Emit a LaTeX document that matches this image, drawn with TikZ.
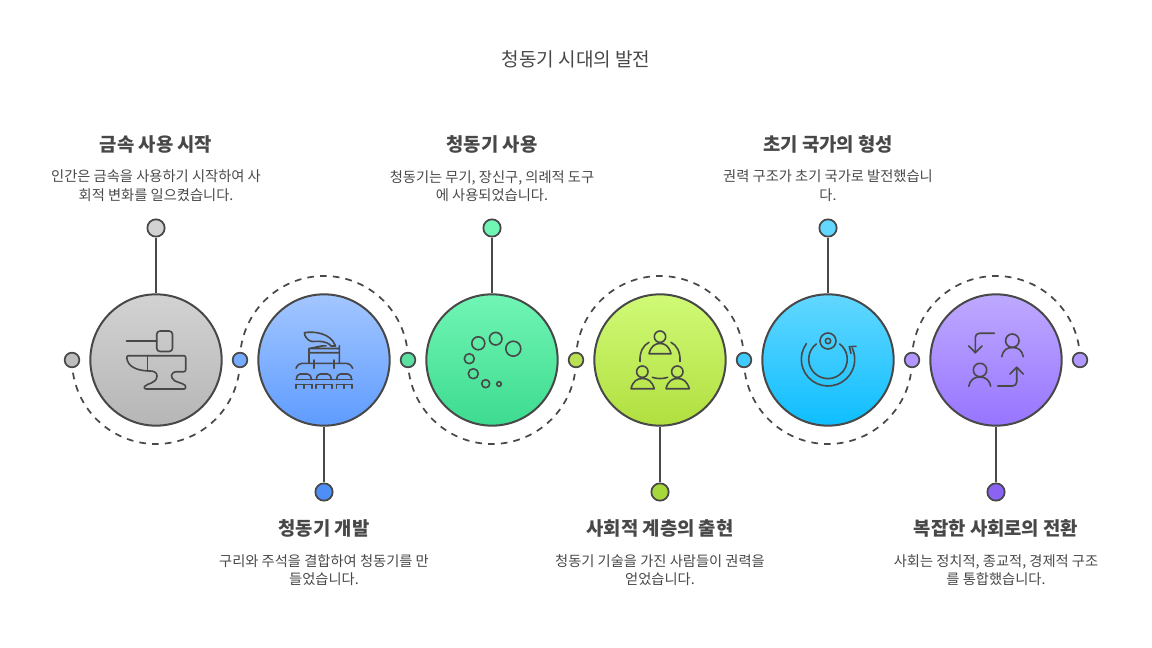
\documentclass[tikz,border=0pt]{standalone}
\usepackage{fontspec}
\setmainfont{Noto Sans CJK KR}
\usetikzlibrary{backgrounds}
\definecolor{ink}{HTML}{484848}
\definecolor{txt}{HTML}{484848}
\definecolor{g1}{HTML}{D2D2D2}\definecolor{g2}{HTML}{B6B6B6}
\definecolor{b1}{HTML}{A3C6FF}\definecolor{b2}{HTML}{5F9CFF}
\definecolor{t1}{HTML}{71F5B4}\definecolor{t2}{HTML}{3DDB90}
\definecolor{l1}{HTML}{D0FA77}\definecolor{l2}{HTML}{B1DF3F}
\definecolor{c1}{HTML}{62D7FF}\definecolor{c2}{HTML}{0FBEFF}
\definecolor{p1}{HTML}{BEA9FF}\definecolor{p2}{HTML}{9775FF}
\definecolor{pb}{HTML}{4F8EF7}\definecolor{pl}{HTML}{A6D83C}\definecolor{pp}{HTML}{8A63F4}
\tikzset{
  big/.style 2 args={circle,draw=ink,line width=1.5pt,minimum size=98.5pt,inner sep=0pt,top color=#1,bottom color=#2},
  dotS/.style={circle,draw=ink,line width=1.3pt,minimum size=11pt,inner sep=0pt,fill=#1},
  dotL/.style={circle,draw=ink,line width=1.3pt,minimum size=13pt,inner sep=0pt,fill=#1},
  stem/.style={draw=ink,line width=1.5pt},
  wave/.style={draw=ink,line width=1.3pt,dash pattern=on 5pt off 4.6pt},
  ico/.style={draw=ink,line width=1.2pt,line cap=round,line join=round},
  heading/.style={text=txt,font=\fontsize{14.1}{17}\selectfont\bfseries,align=center,inner sep=0pt},
  body/.style={text=txt,font=\fontsize{10.7}{14}\selectfont,align=center,inner sep=0pt},
  title/.style={text=txt,font=\fontsize{14.3}{17}\selectfont,inner sep=0pt},
}
\begin{document}
\begin{tikzpicture}[x=.75pt,y=-.75pt]
\useasboundingbox (0,0) rectangle (1152,648);
\node[title] (ttl) at (576,59.5) {청동기 시대의 발전};
% circles
\node[big={g1}{g2}] (n1) at (156,360) {};
\node[big={b1}{b2}] (n2) at (324,360) {};
\node[big={t1}{t2}] (n3) at (492,360) {};
\node[big={l1}{l2}] (n4) at (660,360) {};
\node[big={c1}{c2}] (n5) at (828,360) {};
\node[big={p1}{p2}] (n6) at (996,360) {};
% small dots
\node[dotS=g1!90!black] (d0) at (72,360) {};
\node[dotS=b2!85!white] (d1) at (240,360) {};
\node[dotS=t2!85!white] (d2) at (408,360) {};
\node[dotS=l2!90!white] (d3) at (576,360) {};
\node[dotS=c2!80!white] (d4) at (744,360) {};
\node[dotS=p2!75!white] (d5) at (912,360) {};
\node[dotS=p2!75!white] (d6) at (1080,360) {};
% waves
\begin{pgfonlayer}{background}
\draw[wave] (d0.center) arc[start angle=180,end angle=0,radius=84];
\draw[wave] (d1.center) arc[start angle=180,end angle=360,radius=84];
\draw[wave] (d2.center) arc[start angle=180,end angle=0,radius=84];
\draw[wave] (d3.center) arc[start angle=180,end angle=360,radius=84];
\draw[wave] (d4.center) arc[start angle=180,end angle=0,radius=84];
\draw[wave] (d5.center) arc[start angle=180,end angle=360,radius=84];
\end{pgfonlayer}
% pins
\node[dotL=g1] (p1) at (156,228) {};
\node[dotL=t1] (p3) at (492,228) {};
\node[dotL=c1] (p5) at (828,228) {};
\node[dotL=pb] (p2) at (324,492) {};
\node[dotL=pl] (p4) at (660,492) {};
\node[dotL=pp] (p6) at (996,492) {};
\foreach \a/\b in {p1/n1,p2/n2,p3/n3,p4/n4,p5/n5,p6/n6} \draw[stem] (\a) -- (\b);
% labels
\node[heading] (h1) at (156,144) {금속 사용 시작};
\node[body] (t1) at (156,186) {인간은 금속을 사용하기 시작하여 사\\회적 변화를 일으켰습니다.};
\node[heading] (h3) at (492,144) {청동기 사용};
\node[body] (t3) at (492,186) {청동기는 무기, 장신구, 의례적 도구\\에 사용되었습니다.};
\node[heading] (h5) at (828,144) {초기 국가의 형성};
\node[body] (t5) at (828,186) {권력 구조가 초기 국가로 발전했습니\\다.};
\node[heading] (h2) at (324,528) {청동기 개발};
\node[body] (t2) at (324,570) {구리와 주석을 결합하여 청동기를 만\\들었습니다.};
\node[heading] (h4) at (660,528) {사회적 계층의 출현};
\node[body] (t4) at (660,570) {청동기 기술을 가진 사람들이 권력을\\얻었습니다.};
\node[heading] (h6) at (996,528) {복잡한 사회로의 전환};
\node[body] (t6) at (996,570) {사회는 정치적, 종교적, 경제적 구조\\를 통합했습니다.};
% icon 1: anvil
\draw[ico] (126.5,341) -- (156.7,341);
\draw[ico,rounded corners=2.5] (156.7,331) rectangle (172.5,351.5);
\draw[ico] (128,355.7) -- (184,355.7) .. controls (185.5,355.7) and (185.7,357) .. (185.7,358) -- (185.7,369.5) .. controls (185.7,371) and (185,371.7) .. (184,371.7) -- (177,371.7) .. controls (170,372) and (170,378) .. (175,381) .. controls (181,383.5) and (185.7,384) .. (185.7,387) .. controls (185.7,388.5) and (185,389) .. (184,389) -- (146,389) .. controls (144.5,389) and (144,388) .. (144.5,386.5) .. controls (147,383) and (156.5,384) .. (157,376) .. controls (157,372.5) and (154,371) .. (150,371) .. controls (140,371) and (127,368) .. (126.7,357) .. controls (126.7,356) and (127,355.7) .. (128,355.7) -- cycle;
\draw[ico] (147.3,355.7) -- (147.3,371);
% icon 2: feather, hat, table, seats
\draw[ico] (304.5,332.7) .. controls (314,331) and (331,333) .. (335.5,346) -- (331,346) .. controls (326,340) and (318,341.5) .. (312,341.5) .. controls (308,341) and (304,336) .. (304.5,332.7) -- cycle;
\draw[ico] (309,348.5) .. controls (318,347) and (319,345.8) .. (326,345.8) (339.3,348.5) -- (309,348.5) (309,348.5) -- (309,363.3) (339.3,345.8) -- (339.3,363.3) (309,352.7) -- (339.3,352.7);
\draw[ico] (296,368.3) .. controls (297.5,365) and (299.5,363.3) .. (302,363.3) -- (346.5,363.3) .. controls (349,363.3) and (351,365) .. (352.7,368.3);
\draw[ico] (314,360) -- (314,368.3) (334,360) -- (334,368.3);
\foreach \x in {296,316,336.3}{
  \draw[ico] (\x+.5,379.5) .. controls (\x+.5,376) and (\x+2,374) .. (\x+4,374) -- (\x+11.5,374) .. controls (\x+13.5,374) and (\x+15.2,376) .. (\x+15.2,379.5);
  \draw[ico] (\x,384.5) -- (\x+15.7,384.5) (\x,384.5) -- (\x,388.3) (\x+7.8,384.5) -- (\x+7.8,388.3) (\x+15.7,384.5) -- (\x+15.7,388.3);
}
\draw[ico] (296,379.5) -- (352.2,379.5);
% icon 3: ring of bubbles
\foreach \x/\y/\r in {478.3/343.3/6.5,495.7/338.7/6.3,513.3/348.7/7.5,469.3/358.7/5,473.3/373.7/5,485.7/383.7/4,499/384/2.3}
  \draw[ico] (\x,\y) circle[radius=\r];
% icon 4: three people
\foreach \x/\y in {660/336.7,642.3/371.7,677.3/371.7} \draw[ico] (\x,\y) circle[radius=5.7];
\draw[ico] (649,353.7) .. controls (651,346) and (655,343.5) .. (660,343.5) .. controls (665,343.5) and (669,346) .. (671,353.7) -- cycle;
\draw[ico] (631,388.7) .. controls (633,381) and (637,378.5) .. (642.5,378.5) .. controls (648,378.5) and (652,381) .. (654.3,388.7) -- cycle;
\draw[ico] (666,388.7) .. controls (668,381) and (672,378.5) .. (677.5,378.5) .. controls (683,378.5) and (687,381) .. (689.3,388.7) -- cycle;
\draw[ico] (640,361.5) .. controls (639.5,352) and (643,345.5) .. (649,342.3);
\draw[ico] (680,361.5) .. controls (680.5,352) and (677,345.5) .. (671,342.3);
\draw[ico] (652.3,377.3) .. controls (657,379) and (663,379) .. (667.7,377.3);
% icon 5: cycle
\draw[ico] (828,341) circle[radius=8];
\draw[ico] (828,341) circle[radius=2.7];
\draw[ico] (828,359.3) ++(233:19.3) arc[start angle=233,end angle=-53,radius=19.3];
\draw[ico] (828,359.3) ++(216:26.7) arc[start angle=216,end angle=-25,radius=26.7];
\draw[ico] (856,346.3) -- (849.3,346.7) -- (851,353.3);
% icon 6: exchange
\draw[ico,rounded corners=3] (994.3,333.3) -- (975.3,333.3) -- (975.3,352.7);
\draw[ico] (968.7,346) -- (975.3,352.7) -- (982,346);
\draw[ico,rounded corners=3] (997.7,386) -- (1016.7,386) -- (1016.7,367.3);
\draw[ico] (1010,374) -- (1016.7,367.3) -- (1023.3,374);
\draw[ico] (1012.3,340.7) circle[radius=6.7];
\draw[ico] (980,370) circle[radius=6.7];
\draw[ico] (1001.7,356.7) .. controls (1003,350) and (1007,347.5) .. (1012.5,347.5) .. controls (1018,347.5) and (1022,350) .. (1023.3,356.7);
\draw[ico] (968.7,386.3) .. controls (970,380) and (974,377) .. (979.7,377) .. controls (985.5,377) and (989.5,380) .. (990.7,386.3);
\end{tikzpicture}
\end{document}
